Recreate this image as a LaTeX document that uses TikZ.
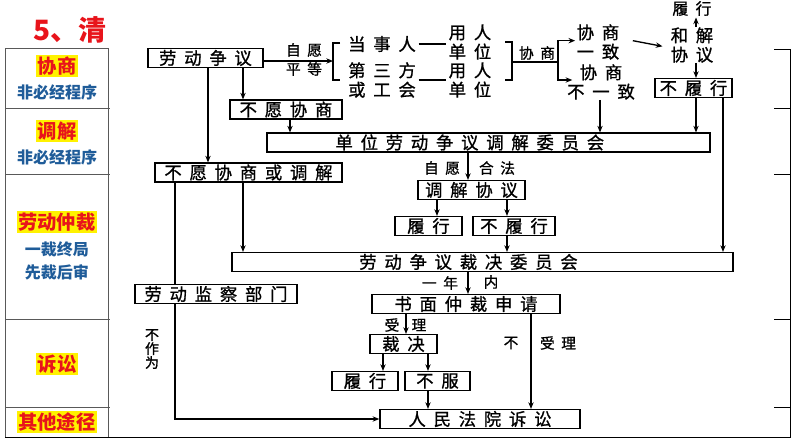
\documentclass[tikz,border=0pt]{standalone}
\usepackage{fontspec}
\newfontfamily\cjk[LetterSpace=45,FakeBold=1]{Noto Sans CJK SC}
\newfontfamily\hei{Noto Sans CJK SC}
\usetikzlibrary{arrows.meta,calc}
\definecolor{tagred}{HTML}{E8141B}
\definecolor{noteblue}{HTML}{1F5C99}

\begin{document}
\begin{tikzpicture}[x=0.75pt,y=-0.75pt,
  box/.style={draw,line width=1.1pt,inner sep=0pt,minimum height=14pt,
    font=\cjk\fontsize{13}{15}\selectfont},
  lbl/.style={inner sep=0pt,align=center,font=\cjk\fontsize{13}{14.5}\selectfont},
  sml/.style={inner sep=0pt,align=center,font=\cjk\fontsize{11}{12}\selectfont},
  ln/.style={line width=1pt},
  arr/.style={ln,-{Stealth[length=5pt,width=4pt]}},
  tag/.style={fill=yellow,text=tagred,inner sep=1pt,
    font=\hei\bfseries\fontsize{14.5}{16}\selectfont},
  note/.style={text=noteblue,inner sep=0pt,align=center,
    font=\hei\bfseries\fontsize{12}{17.5}\selectfont},
  tbl/.style={draw=black!65,line width=0.7pt}]
  \useasboundingbox (0,0) rectangle (794,447);

  % title and left table
  \node[text=tagred,inner sep=0pt,anchor=west,font=\hei\bfseries\fontsize{21}{24}\selectfont]
    (title) at (33,30) {5、清};
  \draw[tbl] (5,48) rectangle (108,437);
  \foreach \y in {108,174,319,407} \draw[tbl] (5,\y) -- (110,\y);
  \node[tag] (t1) at (57,66) {协商};
  \node[note] (n1) at (57,92) {非必经程序};
  \node[tag] (t2) at (57,131) {调解};
  \node[note] (n2) at (57,157) {非必经程序};
  \node[tag] (t3) at (57,222) {劳动仲裁};
  \node[note] (n3) at (57,261) {一裁终局\\先裁后审};
  \node[tag] (t4) at (57,364) {诉讼};
  \node[tag] (t5) at (57,422) {其他途径};

  % right frame of the scanned page
  \draw[line width=0.6pt] (774,49) -- (790,49) -- (790,437) -- (5,437);
  \foreach \y in {108,174,319,407} \draw[line width=0.6pt] (774,\y) -- (790,\y);

  % boxes
  \node[box,minimum width=86pt] (ldzy) at (205.5,58) {劳动争议};
  \node[box,minimum width=84pt] (bych) at (286,109.5) {不愿协商};
  \node[box,minimum width=332pt] (tjwy) at (488.5,142.5) {单位劳动争议调解委员会\hspace*{28pt}};
  \node[box,minimum width=140pt] (bytj) at (248.5,172.5) {不愿协商或调解};
  \node[box,minimum width=80pt] (tjxy) at (471.5,190) {调解协议};
  \node[box,minimum width=50pt] (lx1) at (428.5,226) {履行};
  \node[box,minimum width=61.5pt] (blx1) at (514,226) {不履行};
  \node[box,minimum width=375.5pt] (zcwy) at (482.5,262) {劳动争议裁决委员会\hspace*{21pt}};
  \node[box,minimum width=121.5pt] (jcbm) at (216,294) {劳动监察部门};
  \node[box,minimum width=141pt] (smsq) at (466,304) {书面仲裁申请};
  \node[box,minimum width=50pt] (cj) at (403.5,344) {裁决};
  \node[box,minimum width=49.5pt] (lx2) at (365,381) {履行};
  \node[box,minimum width=48.5pt] (bf) at (437.5,381) {不服};
  \node[box,minimum width=150pt] (rmfy) at (480,419) {人民法院诉讼};
  \node[box,minimum width=57.5pt] (blx0) at (693.5,88) {不履行};

  % texts of the upper branch
  \node[lbl] (dsr) at (382,44) {当事人};
  \node[lbl] (ydw1) at (470,42) {用人\\单位};
  \node[lbl] (dsf) at (382,80) {第三方\\或工会};
  \node[lbl] (ydw2) at (470,80) {用人\\单位};
  \node[lbl] (xsyz) at (598,42) {协商\\一致};
  \node[lbl] (xsbyz) at (601,82) {协商\\不一致};
  \node[lbl] (hjxy) at (692,45) {和解\\协议};
  \node[lbl,font=\cjk\fontsize{12}{13}\selectfont] (lxt) at (692,8.5) {履行};
  \node[sml] (zy1) at (304,50) {自愿};
  \node[sml] (pd) at (304,69) {平等};
  \node[sml] (xs) at (537,53) {协商};
  \node[sml] (zy2) at (442,168) {自愿};
  \node[sml] (hf) at (497,168) {合法};
  \node[sml] (yn) at (440,283) {一年};
  \node[sml] (nei) at (491,282) {内};
  \node[sml] (sh) at (392,325) {受};
  \node[sml] (li) at (419,325) {理};
  \node[sml] (bu) at (511,343) {不};
  \node[sml] (sl) at (558,343) {受理};
  \node[sml,font=\cjk\fontsize{10.5}{10.5}\selectfont] (bzw) at (152,349) {不\\作\\为};

  % x positions of the vertical connectors
  \coordinate (k175) at (175,0);
  \coordinate (k208) at (208,0);
  \coordinate (k243) at (243,0);
  \coordinate (k290) at (290,0);
  \coordinate (k383) at (383,0);
  \coordinate (k406) at (406,0);
  \coordinate (k428) at (428,0);
  \coordinate (k437) at (437,0);
  \coordinate (k468) at (468,0);
  \coordinate (k507) at (507,0);
  \coordinate (k531) at (531,0);
  \coordinate (k600) at (600,0);
  \coordinate (k696) at (696,0);
  \coordinate (k723) at (723,0);

  % brackets
  \coordinate (brL) at (333,61);
  \coordinate (brR) at (512,62);
  \coordinate (jn) at (558,62);
  \draw[arr] (ldzy.east |- brL) -- (brL);
  \draw[ln] (340,43) -- (333,43) -- (333,80) -- (340,80);
  \draw[ln] ([xshift=2pt]dsr.east) -- ([xshift=-2pt]ydw1.west |- dsr.east);
  \draw[ln] ([xshift=2pt]dsf.east) -- ([xshift=-2pt]ydw2.west |- dsf.east);
  \draw[ln] (505,42) -- (512,42) -- (512,80) -- (505,80);
  \draw[ln] (brR) -- (jn);
  \draw[arr] (jn) |- ([xshift=-1pt,yshift=1pt]xsyz.west);
  \draw[arr] (jn) |- ([xshift=4pt,yshift=1.5pt]xsbyz.west);
  \draw[arr] ([xshift=10pt,yshift=1pt]xsyz.east) -- ([xshift=-6pt,yshift=-1pt]hjxy.west);
  \draw[arr] (hjxy.north -| k696) -- ([yshift=-1pt]lxt.south -| k696);
  \draw[arr] (hjxy.south -| k696) -- (blx0.north -| k696);

  % connectors
  \draw[arr] (ldzy.south -| k243) -- (bych.north -| k243);
  \draw[arr] (ldzy.south -| k208) -- (bytj.north -| k208);
  \draw[arr] (bych.south -| k290) -- (tjwy.north -| k290);
  \draw[arr] (xsbyz.south -| k600) -- (tjwy.north -| k600);
  \draw[arr] (blx0.south -| k696) -- (tjwy.north -| k696);
  \draw[arr] (blx0.south -| k723) -- (zcwy.north -| k723);
  \draw[arr] (tjwy.south -| k468) -- (tjxy.north -| k468);
  \draw[arr] (tjxy.south -| k437) -- (lx1.north -| k437);
  \draw[arr] (tjxy.south -| k507) -- (blx1.north -| k507);
  \draw[arr] (blx1.south -| k507) -- (zcwy.north -| k507);
  \draw[arr] (bytj.south -| k243) -- (zcwy.north -| k243);
  \draw[ln] (bytj.south -| k175) -- (jcbm.north -| k175);
  \draw[arr] (zcwy.south -| k468) -- (smsq.north -| k468);
  \draw[arr] (smsq.south -| k406) -- (cj.north -| k406);
  \draw[arr] (smsq.south -| k531) -- (rmfy.north -| k531);
  \draw[arr] (cj.south -| k383) -- (lx2.north -| k383);
  \draw[arr] (cj.south -| k428) -- (bf.north -| k428);
  \draw[arr] (bf.south -| k428) -- (rmfy.north -| k428);
  \draw[arr] (jcbm.south -| k175) |- (rmfy.west);
\end{tikzpicture}
\end{document}
